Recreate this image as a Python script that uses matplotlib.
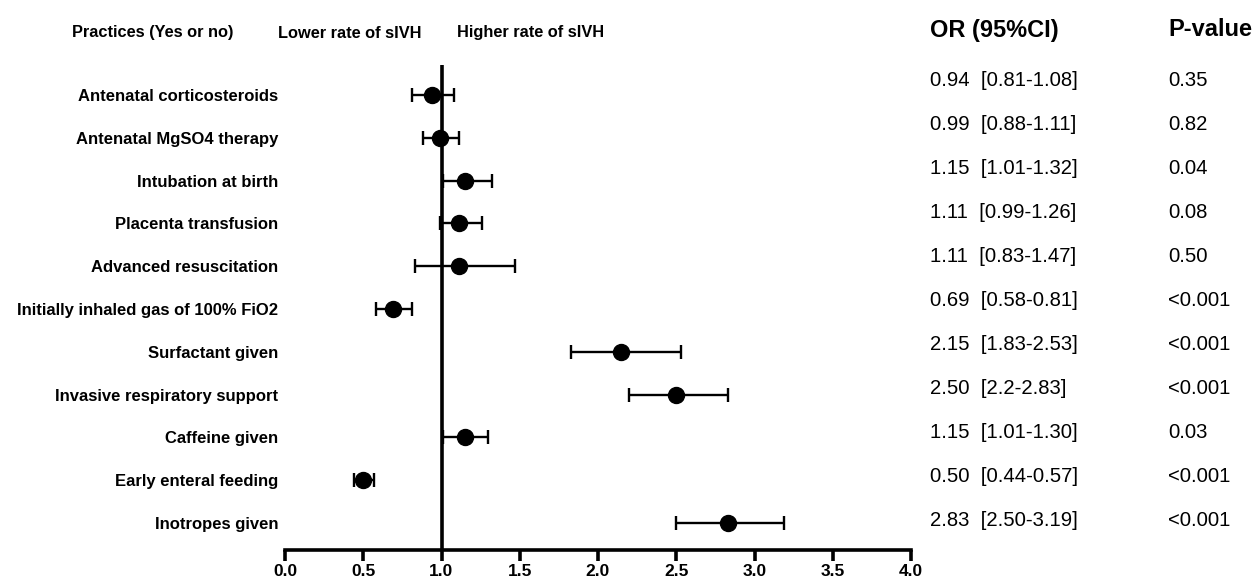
import matplotlib.pyplot as plt

plt.rcParams['font.family'] = ['Liberation Sans', 'DejaVu Sans']

# data
practices = ["Antenatal corticosteroids", "Antenatal MgSO4 therapy", "Intubation at birth",
             "Placenta transfusion", "Advanced resuscitation", "Initially inhaled gas of 100% FiO2",
             "Surfactant given", "Invasive respiratory support", "Caffeine given",
             "Early enteral feeding", "Inotropes given"]
odds = [0.94, 0.99, 1.15, 1.11, 1.11, 0.69, 2.15, 2.50, 1.15, 0.50, 2.83]
ci_low = [0.81, 0.88, 1.01, 0.99, 0.83, 0.58, 1.83, 2.2, 1.01, 0.44, 2.50]
ci_high = [1.08, 1.11, 1.32, 1.26, 1.47, 0.81, 2.53, 2.83, 1.30, 0.57, 3.19]
ci_text = ["[0.81-1.08]", "[0.88-1.11]", "[1.01-1.32]", "[0.99-1.26]", "[0.83-1.47]",
           "[0.58-0.81]", "[1.83-2.53]", "[2.2-2.83]", "[1.01-1.30]", "[0.44-0.57]", "[2.50-3.19]"]
pvals = ["0.35", "0.82", "0.04", "0.08", "0.50", "<0.001", "<0.001", "<0.001", "0.03", "<0.001", "<0.001"]
xticks = [0.0, 0.5, 1.0, 1.5, 2.0, 2.5, 3.0, 3.5, 4.0]

W, H = 1257, 582
fig = plt.figure(figsize=(W / 100, H / 100), dpi=100)
ax = fig.add_axes([285 / W, (H - 550) / H, (911 - 285) / W, (550 - 65) / H])

rows = list(range(len(practices)))
err = [[o - l for o, l in zip(odds, ci_low)], [h - o for o, h in zip(odds, ci_high)]]
ax.errorbar(odds, rows, xerr=err, fmt='o', color='black', ms=11.5,
            elinewidth=1.7, capsize=5, capthick=1.7, zorder=3)
ax.axvline(1.0, color='black', lw=2.6, zorder=2)

ax.set_xlim(0, 4)
ax.set_ylim(10.63, -0.7)
ax.set_xticks(xticks)
ax.set_xticklabels([f"{t:.1f}" for t in xticks], fontweight='bold', fontsize=12.5)
ax.set_yticks(rows)
ax.set_yticklabels(practices, fontweight='bold', fontsize=12)
ax.tick_params(axis='y', length=0, pad=5)
ax.tick_params(axis='x', length=8, width=2.6, direction='out', pad=2)
for s in ['top', 'right', 'left']:
    ax.spines[s].set_visible(False)
ax.spines['bottom'].set_linewidth(2.6)

# header
def fy(py):
    return (H - py) / H

hdr = dict(ha='center', va='center', fontweight='bold', fontsize=11.8)
fig.text(153 / W, fy(33), "Practices (Yes or no)", **hdr)
fig.text(350 / W, fy(33), "Lower rate of sIVH", **hdr)
fig.text(531 / W, fy(33), "Higher rate of sIVH", **hdr)
fig.text(930 / W, fy(30), "OR (95%CI)", ha='left', va='center', fontweight='bold', fontsize=17)
fig.text(1168 / W, fy(30), "P-value", ha='left', va='center', fontweight='bold', fontsize=17)

# right columns
for i in rows:
    py = 80 + i * 44.1
    fig.text(930 / W, fy(py), f"{odds[i]:.2f}  {ci_text[i]}", ha='left', va='center', fontsize=14.6)
    fig.text(1168 / W, fy(py), pvals[i], ha='left', va='center', fontsize=14.6)

fig.savefig("out.png", dpi=100)
